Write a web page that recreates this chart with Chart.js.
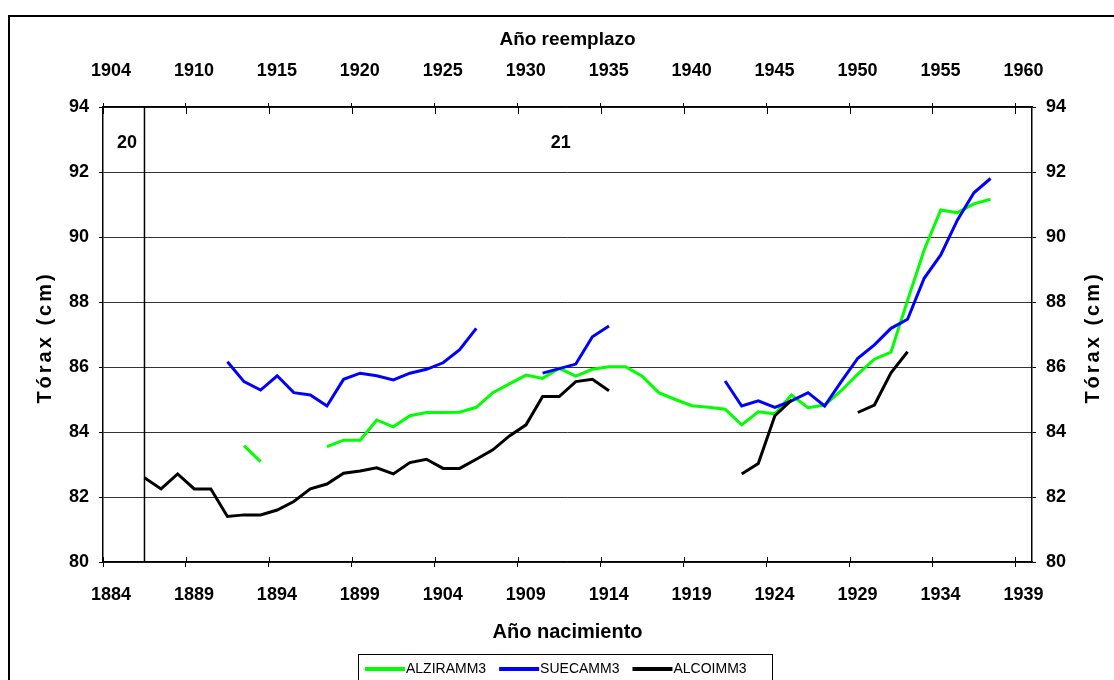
<!doctype html>
<html lang="es">
  <head>
    <meta charset="utf-8">
    <title>Tórax por año de nacimiento</title>
    <style>
      * {
        margin: 0;
        padding: 0;
      }
      body {
        background: #fff;
      }
      .chartBox {
        width: 1114px;
        height: 680px;
        position: relative;
      }
    </style>
  </head>
  <body>
    <div class="chartBox">
      <canvas id="myChart"></canvas>
    </div>
    <script src="https://cdn.jsdelivr.net/npm/chart.js/dist/chart.umd.min.js"></script>
    <script>
    // birth cohorts (one point per year)
    const years = [
      1886, 1887, 1888, 1889, 1890, 1891, 1892, 1893, 1894, 1895,
      1896, 1897, 1898, 1899, 1900, 1901, 1902, 1903, 1904, 1905,
      1906, 1907, 1908, 1909, 1910, 1911, 1912, 1913, 1914, 1915,
      1916, 1917, 1918, 1919, 1920, 1921, 1922, 1923, 1924, 1925,
      1926, 1927, 1928, 1929, 1930, 1931, 1932, 1933, 1934, 1935,
      1936, 1937
    ];

    const alzira = [
      null, null, null, null, null, null, 83.58, 83.09, null, null,
      null, 83.55, 83.75, 83.75, 84.37, 84.16, 84.50, 84.60, 84.60, 84.61,
      84.76, 85.21, 85.48, 85.75, 85.65, 85.96, 85.72, 85.93, 86.01, 86.01,
      85.72, 85.21, 85.00, 84.81, 84.76, 84.70, 84.22, 84.62, 84.56, 85.14,
      84.75, 84.83, 85.27, 85.78, 86.24, 86.46, 88.05, 89.60, 90.83, 90.75,
      91.02, 91.16
    ];

    const sueca = [
      null, null, null, null, null, 86.16, 85.55, 85.29, 85.73, 85.21,
      85.14, 84.80, 85.62, 85.81, 85.73, 85.60, 85.81, 85.93, 86.13, 86.53,
      87.19, null, null, null, 85.81, 85.95, 86.09, 86.93, 87.26, null,
      null, null, null, null, null, 85.57, 84.80, 84.96, 84.76, 84.96,
      85.21, 84.80, 85.55, 86.27, 86.68, 87.19, 87.47, 88.73, 89.45, 90.52,
      91.36, 91.80
    ];

    const alcoi = [
      82.59, 82.25, 82.71, 82.25, 82.25, 81.40, 81.45, 81.45, 81.60, 81.86,
      82.25, 82.40, 82.73, 82.80, 82.90, 82.71, 83.06, 83.16, 82.88, 82.88,
      83.16, 83.45, 83.88, 84.22, 85.09, 85.09, 85.55, 85.62, 85.27, null,
      null, null, null, null, null, null, 82.71, 83.03, 84.50, 84.98,
      null, null, null, 84.60, 84.83, 85.82, 86.47, null, null, null,
      null, null
    ];

    // axis ticks
    const tickYears = [1884, 1889, 1894, 1899, 1904, 1909, 1914, 1919, 1924, 1929, 1934, 1939];
    const bottomLabels = ['1884', '1889', '1894', '1899', '1904', '1909', '1914', '1919', '1924', '1929', '1934', '1939'];
    const topLabels = ['1904', '1910', '1915', '1920', '1925', '1930', '1935', '1940', '1945', '1950', '1955', '1960'];

    // cohort (quinta) divider and its labels
    const cohortBreak = 1886.5;
    const cohortNames = ['20', '21'];
    const cohortNameYears = [1885.45, 1911.6];

    const MID_YEAR = 0.5; // a cohort is plotted in the middle of its year
    const FONT = "'Liberation Sans', Arial, sans-serif";
    Chart.defaults.font.family = FONT;
    Chart.defaults.color = '#000';

    const toPoints = vals => years.map((yr, i) => ({ x: yr + MID_YEAR, y: vals[i] }));

    const data = {
      datasets: [{
        label: 'ALZIRAMM3',
        data: toPoints(alzira),
        borderColor: '#00FF00',
        backgroundColor: '#00FF00',
        order: 3
      }, {
        label: 'SUECAMM3',
        data: toPoints(sueca),
        borderColor: '#0000FF',
        backgroundColor: '#0000FF',
        order: 2
      }, {
        label: 'ALCOIMM3',
        data: toPoints(alcoi),
        borderColor: '#000000',
        backgroundColor: '#000000',
        order: 1
      }]
    };

    // divider line, inner tick marks, y titles, legend and frame
    const decor = {
      id: 'decor',
      beforeDraw(chart) {
        const { ctx, width, height } = chart;
        ctx.save();
        ctx.fillStyle = '#fff';
        ctx.fillRect(0, 0, width, height);
        ctx.restore();
      },
      afterDatasetsDraw(chart) {
        const { ctx, chartArea: { top, bottom }, scales: { x, x2, y } } = chart;
        ctx.save();
        ctx.strokeStyle = '#000';
        ctx.lineWidth = 1.5;
        const bx = x.getPixelForValue(cohortBreak);
        ctx.beginPath();
        ctx.moveTo(bx, top);
        ctx.lineTo(bx, bottom);
        ctx.stroke();

        ctx.lineWidth = 1;
        x.ticks.forEach(t => {
          const px = Math.round(x.getPixelForValue(t.value)) + 0.5;
          ctx.beginPath();
          ctx.moveTo(px, bottom - 5);
          ctx.lineTo(px, bottom);
          ctx.stroke();
        });
        x2.ticks.forEach(t => {
          const px = Math.round(x2.getPixelForValue(t.value)) + 0.5;
          ctx.beginPath();
          ctx.moveTo(px, top);
          ctx.lineTo(px, top + 7);
          ctx.stroke();
        });

        ctx.fillStyle = '#000';
        ctx.font = 'bold 18px ' + FONT;
        ctx.textAlign = 'center';
        ctx.textBaseline = 'middle';
        cohortNames.forEach((name, i) => {
          ctx.fillText(name, x.getPixelForValue(cohortNameYears[i]), y.getPixelForValue(92.9));
        });
        ctx.restore();
      },
      afterDraw(chart) {
        const { ctx, chartArea: { top, bottom } } = chart;
        const midY = (top + bottom) / 2 + 3;
        ctx.save();
        ctx.fillStyle = '#000';
        ctx.font = 'bold 20px ' + FONT;
        ctx.letterSpacing = '3px';
        ctx.textAlign = 'center';
        ctx.textBaseline = 'middle';
        [45, 1093].forEach(cx => {
          ctx.save();
          ctx.translate(cx, midY);
          ctx.rotate(-Math.PI / 2);
          ctx.fillText('Tórax (cm)', 0, 0);
          ctx.restore();
        });
        ctx.letterSpacing = '0px';

        // legend
        const lx = 358, ly = 654;
        ctx.strokeStyle = '#000';
        ctx.lineWidth = 1;
        ctx.strokeRect(lx + 0.5, ly + 0.5, 414, 40);
        ctx.font = '14px ' + FONT;
        ctx.textAlign = 'left';
        let cx = lx + 7;
        chart.data.datasets.forEach(ds => {
          ctx.strokeStyle = ds.borderColor;
          ctx.lineWidth = 4;
          ctx.beginPath();
          ctx.moveTo(cx, ly + 15);
          ctx.lineTo(cx + 40, ly + 15);
          ctx.stroke();
          ctx.fillText(ds.label, cx + 41, ly + 15);
          cx += 41 + ctx.measureText(ds.label).width + 13;
        });

        // outer frame
        ctx.strokeStyle = '#000';
        ctx.lineWidth = 2;
        ctx.strokeRect(9, 16, 1300, 900);
        ctx.restore();
      }
    };

    const tickFont = { size: 18, weight: 'bold' };
    const titleFont = { size: 20, weight: 'bold' };

    const config = {
      type: 'line',
      data,
      options: {
        responsive: true,
        maintainAspectRatio: false,
        animation: false,
        elements: {
          line: { borderWidth: 3, tension: 0 },
          point: { radius: 0, hitRadius: 0, hoverRadius: 0 }
        },
        spanGaps: false,
        layout: { padding: 0 },
        scales: {
          x: {
            type: 'linear',
            position: 'bottom',
            min: 1884,
            max: 1940,
            afterBuildTicks: s => { s.ticks = tickYears.map(v => ({ value: v })); },
            afterFit: s => { s.height = 118; },
            grid: { display: true, drawOnChartArea: false, drawTicks: true, tickLength: 5, color: '#000' },
            border: { color: '#000', width: 1.5 },
            ticks: {
              callback: (v, i) => bottomLabels[i],
              font: tickFont,
              padding: 17,
              labelOffset: 8,
              maxRotation: 0,
              autoSkip: false
            },
            title: { display: true, text: 'Año nacimiento', font: titleFont, padding: { top: 0, bottom: 36 } }
          },
          x2: {
            type: 'linear',
            position: 'top',
            min: 1884,
            max: 1940,
            afterBuildTicks: s => { s.ticks = tickYears.map(v => ({ value: v })); },
            afterFit: s => { s.height = 107; },
            grid: { display: true, drawOnChartArea: false, drawTicks: true, tickLength: 4, color: '#000' },
            border: { color: '#000', width: 1.5 },
            ticks: {
              callback: (v, i) => topLabels[i],
              font: tickFont,
              padding: 21,
              labelOffset: 8,
              maxRotation: 0,
              autoSkip: false
            },
            title: { display: true, text: 'Año reemplazo', font: { size: 19, weight: 'bold' }, padding: { top: 28, bottom: 0 } }
          },
          y: {
            position: 'left',
            min: 80,
            max: 94,
            afterFit: s => { s.width = 103; },
            grid: { color: '#333', lineWidth: 1, tickLength: 4, tickColor: '#000' },
            border: { color: '#000', width: 1.5 },
            ticks: { stepSize: 2, font: tickFont, padding: 10 }
          },
          y2: {
            position: 'right',
            min: 80,
            max: 94,
            afterFit: s => { s.width = 82; },
            grid: { drawOnChartArea: false, tickLength: 4, color: '#000' },
            border: { color: '#000', width: 1.5 },
            ticks: { stepSize: 2, font: tickFont, padding: 10 }
          }
        },
        plugins: {
          legend: { display: false },
          tooltip: { enabled: false }
        }
      },
      plugins: [decor]
    };

    const myChart = new Chart(
      document.getElementById('myChart'),
      config
    );
    </script>
  </body>
</html>
